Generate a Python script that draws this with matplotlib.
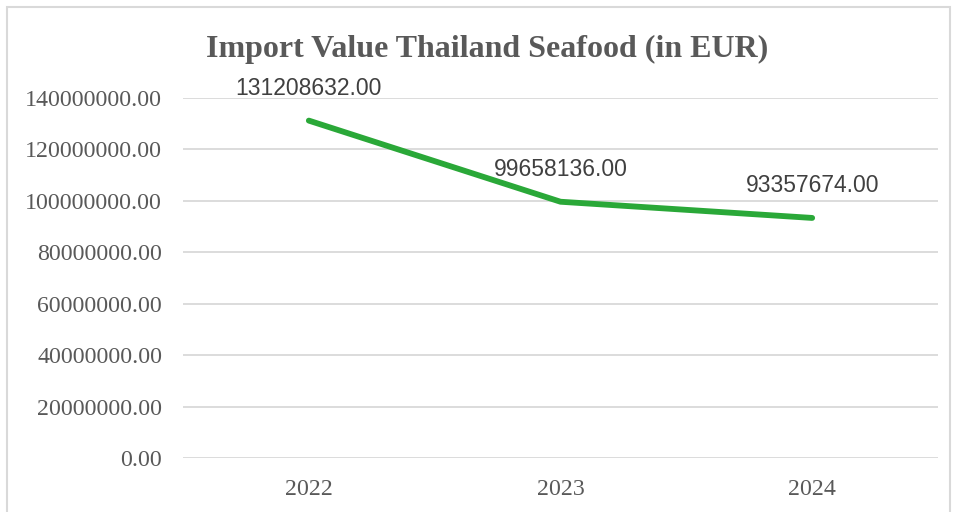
import matplotlib
matplotlib.use("Agg")
import matplotlib.pyplot as plt
from matplotlib.patches import Rectangle

years = ["2022", "2023", "2024"]
values = [131208632.00, 99658136.00, 93357674.00]
yticks = [0, 20000000, 40000000, 60000000, 80000000, 100000000, 120000000, 140000000]

fig = plt.figure(figsize=(9.57, 5.12), dpi=100)
ax = fig.add_axes([183 / 957, 1 - 458 / 512, 755 / 957, 360 / 512])

x = range(len(years))
ax.plot(x, values, color="#2aa838", linewidth=4.2, solid_capstyle="round", zorder=3)

for xi, v in zip(x, values):
    ax.annotate("%.2f" % v, (xi, v), xytext=(0, 23), textcoords="offset points",
                ha="center", va="center", fontsize=16.5, color="#404040",
                family="Liberation Sans")

ax.set_xlim(-0.5, len(years) - 0.5)
ax.set_ylim(0, 140000000)
ax.set_xticks(list(x))
ax.set_xticklabels(years)
ax.set_yticks(yticks)
ax.set_yticklabels(["%.2f" % t for t in yticks])
for lbl in ax.get_xticklabels() + ax.get_yticklabels():
    lbl.set_family("Liberation Serif")
    lbl.set_fontsize(17.2)
    lbl.set_color("#595959")
ax.tick_params(length=0)
ax.tick_params(axis="y", pad=15)
ax.tick_params(axis="x", pad=15)
ax.grid(axis="y", color="#d9d9d9", linewidth=1.3)
ax.set_axisbelow(True)
for s in ax.spines.values():
    s.set_visible(False)

fig.text(487 / 957, 1 - 49 / 512, "Import Value Thailand Seafood (in EUR)",
         ha="center", va="center", fontsize=23, fontweight="bold",
         family="Liberation Serif", color="#595959")

fig.patches.append(Rectangle((7 / 957, -0.1), 943 / 957, 1.1 - 7 / 512,
                             transform=fig.transFigure, fill=False,
                             edgecolor="#d9d9d9", linewidth=1.5))

fig.savefig("out.png", dpi=100)
